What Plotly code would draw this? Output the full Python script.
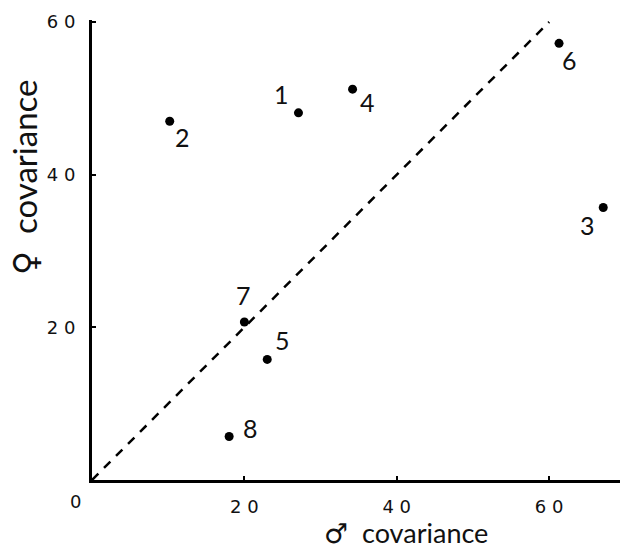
import plotly.graph_objects as go

# data
labels = ["1", "2", "3", "4", "5", "6", "7", "8"]
male_cov = [27.1, 10.2, 67.1, 34.2, 23.0, 61.3, 20.0, 18.0]
female_cov = [48.1, 47.0, 35.7, 51.2, 15.8, 57.2, 20.7, 5.7]
equality_line = [0, 60]
tick_vals = [20, 40, 60]
tick_text = ["2 0", "4 0", "6 0"]

# label placement (pixel offsets, right / up)
label_offsets = {
    "1": (-17, 19), "2": (13, -16), "3": (-16, -18), "4": (15, -13),
    "5": (15, 19), "6": (10, -17), "7": (-1, 27), "8": (21, 8),
}

FONT = "Lato, DejaVu Sans, sans-serif"
TICKFONT = "DejaVu Sans, sans-serif"
L, T, W, H = 92, 20, 528, 460  # plot area in pixels


def px(xp, yp):
    return (xp - L) / W, (T + H - yp) / H


fig = go.Figure()
fig.add_trace(go.Scatter(
    x=equality_line, y=equality_line, mode="lines",
    line=dict(color="black", width=2.5, dash="9px,8px"),
    hoverinfo="skip", showlegend=False))
fig.add_trace(go.Scatter(
    x=male_cov, y=female_cov, mode="markers",
    marker=dict(color="black", size=9), cliponaxis=False,
    text=labels, showlegend=False))

for lab, xv, yv in zip(labels, male_cov, female_cov):
    dx, dy = label_offsets[lab]
    fig.add_annotation(x=xv, y=yv, xref="x", yref="y", text=lab,
                       showarrow=False, xshift=dx, yshift=dy,
                       xanchor="center", yanchor="middle",
                       font=dict(family=FONT, size=25, color="#111"))

x0, y0 = px(75, 501)
fig.add_annotation(x=x0, y=y0, xref="paper", yref="paper", text="0",
                   showarrow=False, xanchor="center", yanchor="middle",
                   font=dict(family=TICKFONT, size=18, color="#111"))

xt, yt = px(406, 532)
fig.add_annotation(x=xt, y=yt, xref="paper", yref="paper",
                   text="<span style='font-family:DejaVu Sans'>\u2642</span>  covariance",
                   showarrow=False, xanchor="center", yanchor="middle",
                   font=dict(family=FONT, size=27, color="#111"))
xt, yt = px(24, 178)
fig.add_annotation(x=xt, y=yt, xref="paper", yref="paper",
                   text="<span style='font-family:DejaVu Sans'>\u2640</span>  covariance",
                   showarrow=False, textangle=-90, xanchor="center", yanchor="middle",
                   font=dict(family=FONT, size=33, color="#111"))

axis_common = dict(
    showgrid=False, zeroline=False, showline=True, linecolor="black", linewidth=3,
    ticks="inside", ticklen=4, tickwidth=2, tickcolor="black",
    tickvals=tick_vals, ticktext=tick_text, automargin=False,
    tickfont=dict(family=TICKFONT, size=18, color="#111"),
)
fig.update_xaxes(range=[0, 69.3], ticklabelstandoff=8, **axis_common)
fig.update_yaxes(range=[0, 60.26], ticklabelstandoff=10, **axis_common)

fig.update_layout(
    width=620, height=550,
    margin=dict(l=L, r=620 - L - W, t=T, b=550 - T - H),
    plot_bgcolor="white", paper_bgcolor="white",
)

fig.write_html("out.html", config={"displayModeBar": False},
               post_script="document.body.style.margin='0';")
